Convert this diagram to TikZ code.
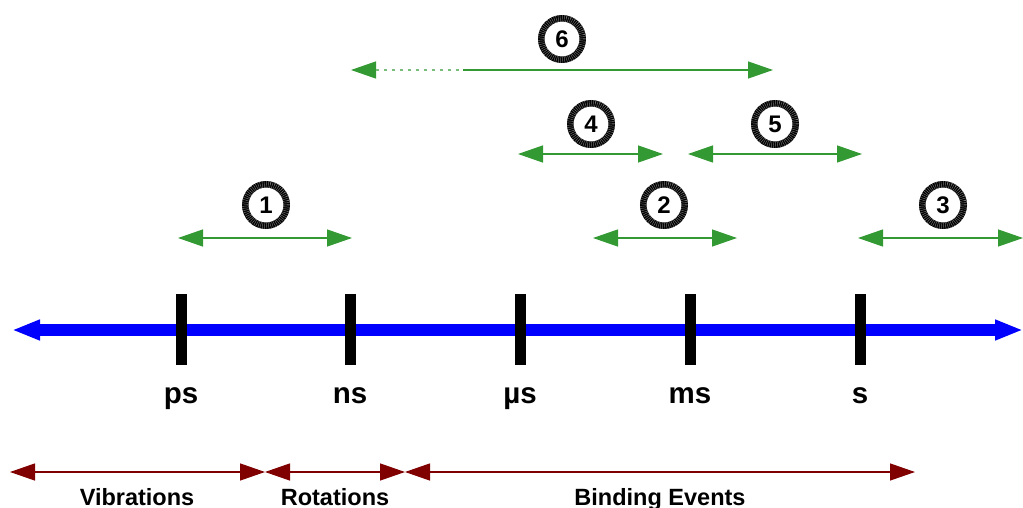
\documentclass[tikz,border=0pt]{standalone}
\usepackage{fontspec}
\setmainfont{Liberation Sans}
\usetikzlibrary{arrows.meta}
\definecolor{axisblue}{RGB}{0,0,255}
\definecolor{rangegreen}{RGB}{51,153,51}
\definecolor{darkred}{RGB}{128,0,0}
\begin{document}
\begin{tikzpicture}[x=1pt,y=-1pt,
  timeaxis/.style={draw=axisblue, line width=12pt,
    {Triangle[length=28pt,width=19pt]}-{Triangle[length=28pt,width=19pt]}},
  tickmark/.style={fill=black, inner sep=0pt, minimum width=11pt, minimum height=71pt},
  unitlabel/.style={font=\fontsize{29.5}{29.5}\selectfont\bfseries, anchor=base},
  rangearrow/.style={draw=rangegreen, line width=1.3pt,
    {Triangle[length=25pt,width=17pt]}-{Triangle[length=25pt,width=17pt]}},
  numcircle/.style={circle, draw=black, line width=6.5pt, minimum size=41.5pt, inner sep=0pt,
    font=\fontsize{24}{24}\selectfont\bfseries,
    postaction={draw=black!55, line width=6.5pt, dash pattern=on 0.45pt off 1.55pt}},
  spanarrow/.style={draw=darkred, line width=1.3pt,
    {Triangle[length=25pt,width=17pt]}-{Triangle[length=25pt,width=17pt]}},
  spanlabel/.style={font=\fontsize{23.5}{23.5}\selectfont\bfseries, anchor=base}]
\useasboundingbox (0,0) rectangle (1023,508);

% time axis
\coordinate (axL) at (12,330);
\coordinate (axR) at (1023,330);
\draw[timeaxis] (axL) -- (axR);

% tick marks and units
\foreach \nm/\xx/\lbl in {ps/181/ps, ns/350/ns, us/520/µs, ms/690/ms, s/860/s}{
  \node[tickmark] (t\nm) at (\xx,329.5) {};
  \node[unitlabel] (l\nm) at (\xx,403) {\lbl};
}

% technique ranges
\coordinate (r1a) at (178,238); \coordinate (r1b) at (352,238);
\coordinate (r2a) at (593,238); \coordinate (r2b) at (737,238);
\coordinate (r3a) at (858,238); \coordinate (r3b) at (1023,238);
\coordinate (r4a) at (518,154); \coordinate (r4b) at (663,154);
\coordinate (r5a) at (688,154); \coordinate (r5b) at (862,154);
\coordinate (r6a) at (351,70);  \coordinate (r6h) at (376,70);
\coordinate (r6m) at (463,70);  \coordinate (r6b) at (773,70);
\draw[rangearrow] (r1a) -- (r1b);
\draw[rangearrow] (r2a) -- (r2b);
\draw[rangearrow] (r3a) -- (r3b);
\draw[rangearrow] (r4a) -- (r4b);
\draw[rangearrow] (r5a) -- (r5b);
% range 6: open-ended (dotted) towards short times
\draw[draw=rangegreen, line width=1.3pt, {Triangle[length=25pt,width=17pt]}-] (r6a) -- (r6h);
\draw[draw=rangegreen!65, line width=1.3pt, dash pattern=on 3pt off 5pt] (r6h) -- (r6m);
\draw[draw=rangegreen, line width=1.3pt, -{Triangle[length=25pt,width=17pt]}] (r6m) -- (r6b);

% numbered markers
\node[numcircle] (n1) at (266,205) {1};
\node[numcircle] (n2) at (664,205) {2};
\node[numcircle] (n3) at (943,205) {3};
\node[numcircle] (n4) at (591,124) {4};
\node[numcircle] (n5) at (775,124) {5};
\node[numcircle] (n6) at (562,39) {6};

% motion regimes
\coordinate (v0) at (10,472); \coordinate (v1) at (265,472);
\coordinate (ro1) at (405,472); \coordinate (b1) at (915,472);
\draw[spanarrow] (v0) -- (v1);
\draw[spanarrow] (v1) -- (ro1);
\draw[spanarrow] (ro1) -- (b1);
\node[spanlabel] (vib) at (137,505) {Vibrations};
\node[spanlabel] (rot) at (335,505) {Rotations};
\node[spanlabel] (bind) at (660,505) {Binding Events};
\end{tikzpicture}
\end{document}
